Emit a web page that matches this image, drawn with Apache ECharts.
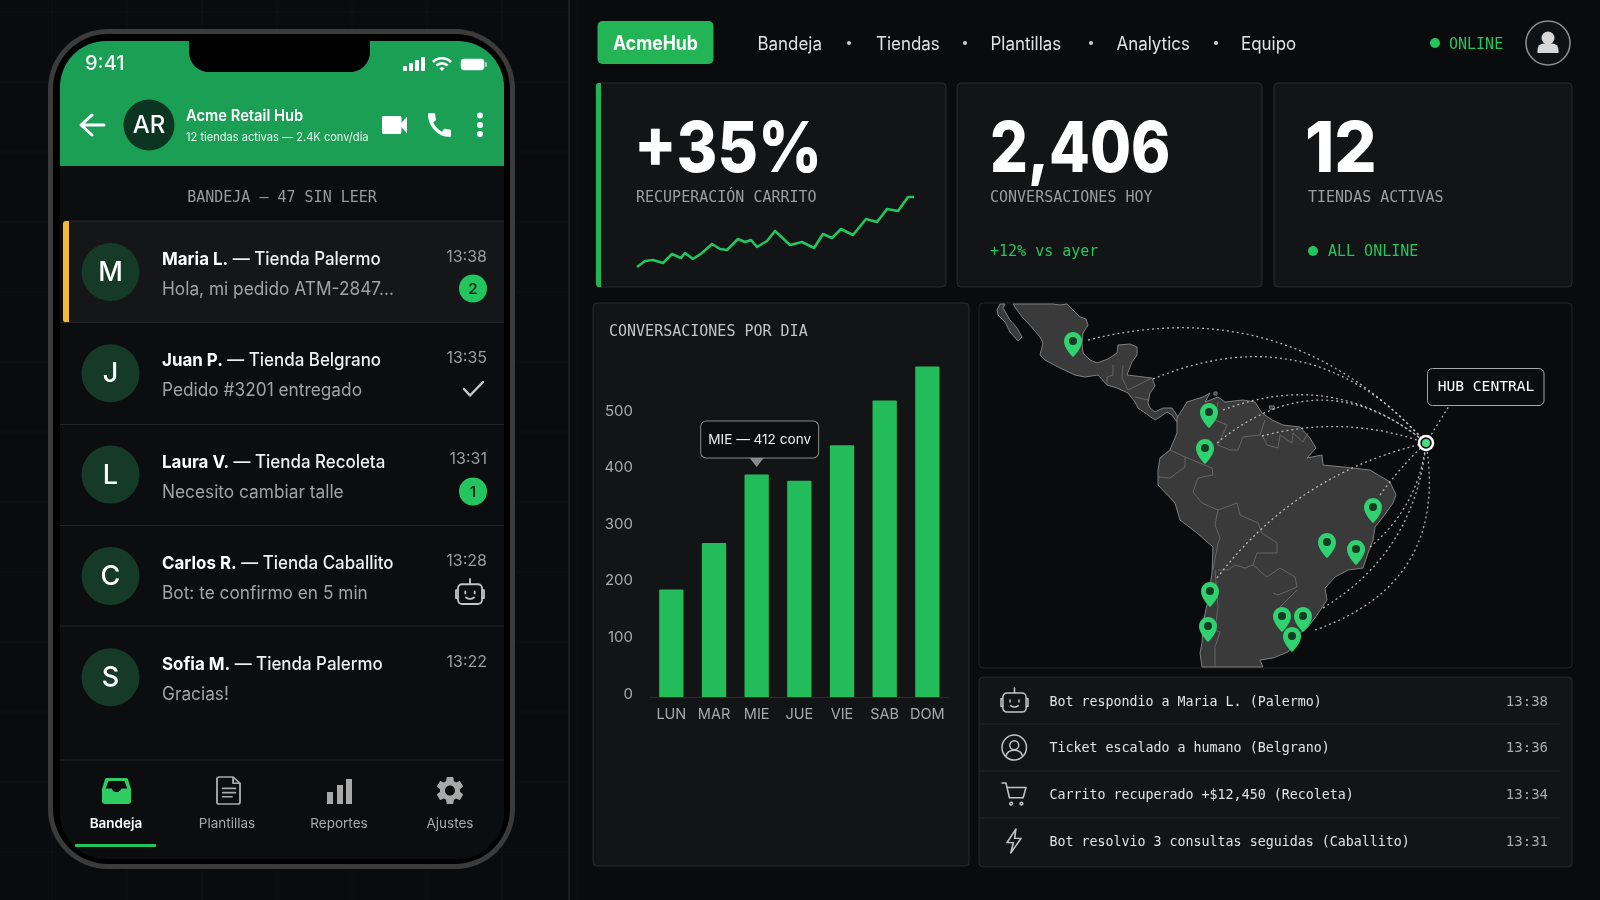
<!DOCTYPE html>
<html>
<head>
<meta charset="utf-8">
<title>AcmeHub</title>
<style>
  html, body { margin: 0; padding: 0; background: #0a0b0c; }
  #main { width: 1600px; height: 900px; }
</style>
<script src="https://cdn.jsdelivr.net/npm/echarts@6/dist/echarts.min.js"></script>
</head>
<body>
<div id="main"></div>
<script>
/* ============================================================
   AcmeHub dashboard: phone inbox + KPI cards + bars + hub map
   ============================================================ */

// ---- bar chart ----
var days = ["LUN", "MAR", "MIE", "JUE", "VIE", "SAB", "DOM"];
var dayCounts = [190, 272, 393, 382, 445, 524, 584];
var highlightDay = "MIE";
var highlightText = "MIE — 412 conv";

// ---- sparkline (recuperacion carrito) ----
var sparkX = [7, 15, 23, 33, 42, 51, 55, 63, 72, 82, 90, 97, 108, 115, 121, 127, 137, 145, 160, 172, 184, 193, 202, 211, 223, 236, 247, 257, 268, 278, 284];
var sparkY = [8, 14, 15, 12, 21, 17, 22, 16, 22, 31, 26, 25, 36, 33, 35, 28, 34, 44, 30, 33, 27, 41, 37, 46, 40, 56, 53, 66, 64, 78, 78];

// ---- inbox ----
var contactNames = ["Maria L.", "Juan P.", "Laura V.", "Carlos R.", "Sofia M."];
var contactStores = ["Tienda Palermo", "Tienda Belgrano", "Tienda Recoleta", "Tienda Caballito", "Tienda Palermo"];
var contactPreviews = ["Hola, mi pedido ATM-2847...", "Pedido #3201 entregado", "Necesito cambiar talle", "Bot: te confirmo en 5 min", "Gracias!"];
var contactTimes = ["13:38", "13:35", "13:31", "13:28", "13:22"];
var contactLetters = ["M", "J", "L", "C", "S"];

// ---- top nav / tabs ----
var navItems = ["Bandeja", "Tiendas", "Plantillas", "Analytics", "Equipo"];
var tabItems = ["Bandeja", "Plantillas", "Reportes", "Ajustes"];

// ---- activity log ----
var logTexts = ["Bot respondio a Maria L. (Palermo)", "Ticket escalado a humano (Belgrano)", "Carrito recuperado +$12,450 (Recoleta)", "Bot resolvio 3 consultas seguidas (Caballito)"];
var logTimes = ["13:38", "13:36", "13:34", "13:31"];

// ---- map (map units) ----
var landMexico = [[1013, 304], [1053, 304], [1060, 305], [1067, 304], [1073, 310], [1080, 317], [1086, 319], [1088, 325], [1083, 333], [1082, 343], [1083, 353], [1090, 360], [1097, 363], [1108, 359], [1117, 353], [1118, 345], [1130, 344], [1137, 347], [1137, 355], [1132, 362], [1130, 367], [1127, 375], [1152, 378], [1155, 386], [1150, 393], [1148, 403], [1150, 408], [1155, 412], [1163, 408], [1172, 408], [1178, 417], [1177, 422], [1172, 415], [1167, 412], [1160, 417], [1155, 420], [1148, 415], [1138, 408], [1135, 402], [1128, 393], [1117, 388], [1107, 385], [1098, 375], [1085, 377], [1075, 375], [1060, 368], [1045, 360], [1040, 355], [1043, 343], [1040, 337], [1028, 323], [1023, 318], [1017, 310]];
var landBaja = [[1000, 304], [1005, 304], [1003, 308], [1010, 320], [1017, 328], [1022, 337], [1018, 341], [1010, 332], [1005, 322], [998, 315], [997, 310]];
var landSouth = [[1177, 418], [1187, 402], [1203, 397], [1210, 393], [1205, 402], [1218, 397], [1225, 402], [1243, 400], [1255, 402], [1262, 413], [1272, 420], [1283, 425], [1300, 427], [1310, 438], [1316, 448], [1307, 458], [1322, 455], [1323, 465], [1343, 467], [1370, 470], [1390, 482], [1396, 495], [1393, 503], [1383, 517], [1375, 527], [1373, 540], [1368, 553], [1363, 568], [1348, 570], [1335, 577], [1325, 588], [1327, 600], [1317, 615], [1308, 627], [1300, 633], [1288, 652], [1273, 658], [1260, 660], [1263, 667], [1202, 667], [1200, 653], [1202, 643], [1203, 623], [1208, 600], [1212, 573], [1213, 547], [1197, 533], [1180, 520], [1175, 503], [1158, 485], [1158, 470], [1160, 458], [1170, 450], [1177, 433]];
var landIsleA = [[1269, 406], [1274, 406], [1275, 409], [1270, 409]];
var landIsleB = [[1214, 392], [1217, 392], [1217, 395], [1214, 395]];
var borderLines = [
  [[1113, 365], [1113, 375], [1107, 377], [1107, 385]],
  [[1123, 365], [1122, 378], [1128, 390], [1152, 378]],
  [[1135, 397], [1148, 400]],
  [[1218, 402], [1215, 420], [1227, 425], [1218, 445], [1230, 450], [1238, 450], [1243, 437], [1260, 435], [1265, 420]],
  [[1262, 435], [1267, 445], [1278, 448], [1280, 435], [1292, 443], [1293, 433], [1303, 442], [1308, 433]],
  [[1160, 458], [1170, 450], [1185, 457], [1185, 467], [1170, 478], [1158, 477]],
  [[1185, 457], [1212, 468], [1213, 475], [1198, 478], [1193, 492], [1202, 503], [1218, 510], [1215, 525], [1220, 538], [1218, 543], [1213, 570]],
  [[1218, 510], [1237, 503], [1240, 515], [1258, 523], [1262, 533], [1277, 543], [1277, 553], [1257, 553], [1253, 565], [1267, 577], [1280, 568], [1295, 577], [1297, 587], [1278, 595], [1273, 593]],
  [[1218, 570], [1228, 570], [1235, 565], [1245, 568], [1253, 565]],
  [[1215, 570], [1218, 607], [1215, 630], [1220, 632], [1215, 647], [1215, 667]],
  [[1297, 590], [1280, 607], [1278, 625]]
];
var storePins = [[1073, 357], [1209, 428], [1205, 464], [1373, 523], [1327, 558], [1356, 565], [1210, 607], [1208, 642], [1282, 632], [1303, 632], [1292, 652]];
var hubPoint = [1426, 443];
var hubLabelFoot = [1449, 406];
// route start + bend of each arc into the hub
var routeStarts = [[1088, 340], [1153, 379], [1223, 410], [1217, 443], [1262, 436], [1217, 578], [1380, 495], [1370, 547], [1323, 608], [1315, 630]];
var routeBends = [0.30, 0.36, 0.29, 0.41, 0.155, 0.18, 0.05, -0.2, -0.25, -0.42];

var SANS = "Inter, 'Noto Sans', sans-serif";
var MONO = "'DejaVu Sans Mono', 'Liberation Mono', monospace";
var GREEN = "#22c55e";

var PIN_PATH = "path://M12 0C5.4 0 0 5.4 0 12c0 9 12 20 12 20s12-11 12-20C24 5.4 18.6 0 12 0z";
var ICON_WIFI = "M1 9l2 2c4.97-4.97 13.03-4.97 18 0l2-2C16.93 2.93 7.08 2.93 1 9zm8 8l3 3 3-3c-1.65-1.66-4.34-1.66-6 0zm-4-4l2 2c2.76-2.76 7.24-2.76 10 0l2-2C15.14 9.14 8.87 9.14 5 13z";
var ICON_VIDEO = "M17 10.5V7c0-.55-.45-1-1-1H4c-.55 0-1 .45-1 1v10c0 .55.45 1 1 1h12c.55 0 1-.45 1-1v-3.5l4 4v-11l-4 4z";
var ICON_CALL = "M20.01 15.38c-1.23 0-2.42-.2-3.53-.56-.35-.12-.74-.03-1.01.24l-1.57 1.97c-2.83-1.35-5.48-3.9-6.89-6.83l1.95-1.66c.27-.28.35-.67.24-1.02-.37-1.11-.56-2.3-.56-3.53 0-.54-.45-.99-.99-.99H4.19C3.65 3 3 3.24 3 3.99 3 13.28 10.73 21 20.01 21c.71 0 .99-.63.99-1.18v-3.45c0-.54-.45-.99-.99-.99z";
var ICON_GEAR = "M19.14 12.94c.04-.3.06-.61.06-.94 0-.32-.02-.64-.07-.94l2.03-1.58c.18-.14.23-.41.12-.61l-1.92-3.32c-.12-.22-.37-.29-.59-.22l-2.39.96c-.5-.38-1.03-.7-1.62-.94l-.36-2.54c-.04-.24-.24-.41-.48-.41h-3.84c-.24 0-.43.17-.47.41l-.36 2.54c-.59.24-1.13.57-1.62.94l-2.39-.96c-.22-.08-.47 0-.59.22L2.74 8.87c-.12.21-.08.47.12.61l2.03 1.58c-.05.3-.09.63-.09.94s.02.64.07.94l-2.03 1.58c-.18.14-.23.41-.12.61l1.92 3.32c.12.22.37.29.59.22l2.39-.96c.5.38 1.03.7 1.62.94l.36 2.54c.05.24.24.41.48.41h3.84c.24 0 .44-.17.47-.41l.36-2.54c.59-.24 1.13-.56 1.62-.94l2.39.96c.22.08.47 0 .59-.22l1.92-3.32c.12-.22.07-.47-.12-.61l-2.01-1.58zM12 15.6c-1.98 0-3.6-1.62-3.6-3.6s1.62-3.6 3.6-3.6 3.6 1.62 3.6 3.6-1.62 3.6-3.6 3.6z";
var ICON_ROBOT = "M12 1.5v4M6 5.5h12a3 3 0 0 1 3 3v9a3 3 0 0 1-3 3H6a3 3 0 0 1-3-3v-9a3 3 0 0 1 3-3zM3 10H1.5v6H3M21 10h1.5v6H21M8.5 11v1.5M15.5 11v1.5M9 15.5q3 2.2 6 0";
var ICON_USER = "M12 1a11 11 0 1 0 .01 0zM12 6a4 4 0 1 0 .01 0zM4.5 19.5c1-3.5 4-5 7.5-5s6.5 1.5 7.5 5";
var ICON_CART = "M1 2h3.5l3 13h12l2.5-9H5.5M9 19a1.2 1.2 0 1 0 .01 0zM18 19a1.2 1.2 0 1 0 .01 0z";
var ICON_BOLT = "M9 1L2 14h5l-2 10 8-14H8z";
var ICON_DOC = "M3 1h12l6 6v18a2 2 0 0 1-2 2H3a2 2 0 0 1-2-2V3a2 2 0 0 1 2-2zM15 1v6h6M6 12h11M6 16h11M6 20h8";

var gfx = [];
var pathCount = 0;

// ============================================================
//  small graphic helpers
// ============================================================
function box(x, y, w, h, fill, stroke, r, z) {
  gfx.push({
    type: "rect", z: z === undefined ? 0 : z, silent: true,
    shape: { x: x, y: y, width: w, height: h, r: r || 0 },
    style: { fill: fill, stroke: stroke || null, lineWidth: stroke ? 1 : 0 }
  });
}
function dot(cx, cy, r, fill, stroke, lw) {
  gfx.push({
    type: "circle", z: 5, silent: true,
    shape: { cx: cx, cy: cy, r: r },
    style: { fill: fill, stroke: stroke || null, lineWidth: lw || 0 }
  });
}
// sx: the reference's type runs a little narrower than Inter, so squeeze it
function txt(x, y, s, size, color, family, weight, align, sx) {
  gfx.push({
    type: "text", z: 10, silent: true, x: x, y: y, scaleX: sx || 1,
    style: {
      text: s, fill: color, fontSize: size, fontFamily: family || SANS,
      fontWeight: weight || 400, textAlign: align || "left", textVerticalAlign: "middle"
    }
  });
}
// graphic has no plain svg-path type, so each icon gets its own registered shape
function regPath(path) {
  var name = "acmePath" + (pathCount++);
  var Cls = echarts.graphic.extendPath(path, {});
  echarts.graphic.registerShape(name, Cls);
  return { name: name, rect: new Cls().getBoundingRect() };
}
function icon(path, x, y, w, h, fill, stroke, lw) {
  var reg = regPath(path);
  var sx = w / reg.rect.width, sy = h / reg.rect.height;
  gfx.push({
    type: reg.name, z: 6, silent: true,
    x: x - reg.rect.x * sx, y: y - reg.rect.y * sy, scaleX: sx, scaleY: sy,
    style: { fill: fill || null, stroke: stroke || null, lineWidth: lw || 0, lineCap: "round", lineJoin: "round", strokeNoScale: true }
  });
}
function rawPath(path, fill, stroke, lw) {
  gfx.push({
    type: regPath(path).name, z: 6, silent: true,
    style: { fill: fill || null, stroke: stroke || null, lineWidth: lw || 0, lineCap: "round", lineJoin: "round" }
  });
}
function seg(x1, y1, x2, y2, color, z) {
  gfx.push({
    type: "line", z: z === undefined ? 1 : z, silent: true,
    shape: { x1: x1, y1: y1, x2: x2, y2: y2 },
    style: { stroke: color, lineWidth: 1 }
  });
}

// ============================================================
//  phone
// ============================================================
function drawPhone() {
  var i;
  for (i = 0; i < 8; i++) seg(52 + i * 75, 0, 52 + i * 75, 900, "rgba(255,255,255,0.022)", 0);
  for (i = 0; i < 13; i++) seg(0, 12 + i * 70, 569, 12 + i * 70, "rgba(255,255,255,0.022)", 0);
  seg(569, 0, 569, 900, "#2b2c2e", 0);

  box(48, 29, 467, 840, "#3b3b3c", null, 60);
  box(53, 34, 457, 830, "#000000", null, 55);
  box(60, 41, 444, 818, "#0c0d0e", null, 46);
  box(60, 41, 444, 125, "#1a9f55", null, [46, 46, 0, 0]);
  box(189, 41, 181, 31, "#000000", null, [0, 0, 20, 20]);

  txt(85, 64, "9:41", 20, "#f2f2f2", SANS, 500);
  box(403, 66, 4, 5, "#fff", null, 1);
  box(409, 63, 4, 8, "#fff", null, 1);
  box(415, 60, 4, 11, "#fff", null, 1);
  box(421, 57, 4, 14, "#fff", null, 1);
  icon(ICON_WIFI, 432, 57, 20, 14, "#fff");
  box(461, 59, 23, 11, "#fff", "rgba(255,255,255,0.5)", 3);
  box(485, 62, 2, 5, "rgba(255,255,255,0.6)", null, 1);

  rawPath("M104 125H82M92 115L81 125L92 135", null, "#fff", 3);
  dot(149, 125, 25.5, "#0c3521");
  txt(149, 126, "AR", 24, "#fff", SANS, 500, "center");
  txt(186, 116, "Acme Retail Hub", 16, "#fff", SANS, 600, "left", 0.92);
  txt(186, 137, "12 tiendas activas — 2.4K conv/dia", 12.2, "#e9f6ee", SANS, 400, "left", 0.91);
  icon(ICON_VIDEO, 382, 116, 25, 18, "#fff");
  icon(ICON_CALL, 428, 113, 23, 24, "#fff");
  dot(480, 115.5, 3, "#fff");
  dot(480, 125, 3, "#fff");
  dot(480, 134, 3, "#fff");

  txt(282, 198.5, "BANDEJA — 47 SIN LEER", 15, "#9a9a9a", MONO, 400, "center");

  // conversation rows
  var sepY = [322.5, 424.5, 525.5, 626];
  box(64, 221, 440, 101.5, "#151617");
  seg(64, 221, 504, 221, "#242527");
  box(63, 221, 6, 101.5, "#f4b93a", null, [3, 0, 0, 3], 1);
  sepY.forEach(function (y) { seg(60, y, 504, y, "#232426"); });

  for (i = 0; i < contactNames.length; i++) {
    var top = i * 101.3;
    dot(110.5, 272 + top, 29, "#153a27");
    txt(110.5, 273 + top, contactLetters[i], 27, "#fff", SANS, 500, "center");
    gfx.push({
      type: "text", z: 10, silent: true, x: 162, y: 259.5 + top, scaleX: 0.94,
      style: {
        text: "{b|" + contactNames[i] + "}{r| — " + contactStores[i] + "}",
        textVerticalAlign: "middle", textAlign: "left",
        rich: {
          b: { fontSize: 18, fontFamily: SANS, fontWeight: 700, fill: "#fff" },
          r: { fontSize: 18, fontFamily: SANS, fontWeight: 500, fill: "#f0f0f0" }
        }
      }
    });
    txt(162, 289.5 + top, contactPreviews[i], 18, "#a3a3a3", SANS, 400, "left", 0.96);
    txt(487, 257 + top, contactTimes[i], 16, "#9c9c9c", SANS, 400, "right");
  }
  dot(473, 288.5, 14, GREEN);
  txt(473, 289, "2", 15, "#0d2b18", SANS, 600, "center");
  rawPath("M464 389L470 395.5L483 382", null, "#c9c9c9", 2.4);
  dot(473, 491.5, 14, GREEN);
  txt(473, 492, "1", 15, "#0d2b18", SANS, 600, "center");
  icon(ICON_ROBOT, 456, 579, 28, 25, null, "#c4c4c4", 1.8);

  // bottom tabs
  seg(60, 760, 504, 760, "#232426");
  var tabX = [116, 227, 339, 450];
  tabItems.forEach(function (name, idx) {
    txt(tabX[idx], 824, name, 13.5, idx === 0 ? "#fff" : "#a9a9a9", SANS, idx === 0 ? 600 : 400, "center");
  });
  rawPath("M107 778h19a2 2 0 0 1 2 1.2l3 9.8v12a3 3 0 0 1-3 3h-23a3 3 0 0 1-3-3v-12l3-9.8a2 2 0 0 1 2-1.2z", "#2ecc63");
  rawPath("M108.5 781h16l2.8 7.5h-6a5 5 0 0 1-9.6 0h-6z", "#0c0d0e");
  icon(ICON_DOC, 217, 777, 23, 27, null, "#a9a9a9", 1.8);
  box(327, 792, 6, 12, "#a9a9a9");
  box(337, 785, 6, 19, "#a9a9a9");
  box(346, 779, 6, 25, "#a9a9a9");
  icon(ICON_GEAR, 437, 777, 26, 27, "#a9a9a9");
  box(75, 844, 81, 3, GREEN, null, 1);
}

// ============================================================
//  dashboard chrome (nav, cards, panels, log)
// ============================================================
function drawDashboard() {
  box(597.5, 21, 116, 43, "#22b455", null, 5);
  txt(655.5, 44, "AcmeHub", 20, "#fff", SANS, 700, "center", 0.88);

  var navX = [757.5, 876, 990.5, 1116.5, 1241];
  navItems.forEach(function (n, i) { txt(navX[i], 45, n, 18, "#e2e2e2", SANS, 400, "left", 0.94); });
  [849, 965, 1091, 1216].forEach(function (x) { dot(x, 43, 2, "#cfcfcf"); });

  dot(1435, 43, 5, GREEN);
  txt(1449, 45, "ONLINE", 15, GREEN, MONO);
  dot(1548, 43, 22, "#101112", "#8a8a8a", 1.6);
  dot(1548, 38, 6.5, "#d8d8d8");
  rawPath("M1537.5 53v-3.5a6 6 0 0 1 6-6h9a6 6 0 0 1 6 6V53z", "#d8d8d8");

  // KPI cards
  var panel = "#131415", edge = "#2a2b2d";
  box(596, 83, 350, 204, panel, edge, 4);
  box(596, 83, 5, 204, "#22b455", null, [3, 0, 0, 3], 1);
  box(957, 83, 305, 204, panel, edge, 4);
  box(1274, 83, 298, 204, panel, edge, 4);

  txt(634, 150.5, "+35%", 70, "#fff", SANS, 800, "left", 0.89);
  txt(636, 198.5, "RECUPERACIÓN CARRITO", 15, "#9d9d9d", MONO);
  txt(990, 150.5, "2,406", 70, "#fff", SANS, 800, "left", 0.85);
  txt(990, 198.5, "CONVERSACIONES HOY", 15, "#9d9d9d", MONO);
  txt(990, 252.5, "+12% vs ayer", 15, GREEN, MONO);
  txt(1305, 150.5, "12", 70, "#fff", SANS, 800, "left", 0.95);
  txt(1308, 198.5, "TIENDAS ACTIVAS", 15, "#9d9d9d", MONO);
  dot(1313, 251, 5, GREEN);
  txt(1328, 252.5, "ALL ONLINE", 15, GREEN, MONO);

  // chart + map panels
  box(593, 303, 376, 563, panel, edge, 4);
  txt(609, 332.5, "CONVERSACIONES POR DIA", 15, "#c4c4c4", MONO);
  box(979, 303, 593, 365, "#0a0b0c", "#222325", 4);

  box(1427.5, 368.5, 116.5, 37, "#0c0d0e", "#a5a5a5", 5);
  txt(1486, 387, "HUB CENTRAL", 14.6, "#fff", MONO, 400, "center");

  // activity log
  box(979, 677, 593, 190, panel, edge, 4);
  [724, 771, 818].forEach(function (y) { seg(979, y, 1560, y, "#26272a"); });
  var rowY = [702, 748, 795, 842];
  logTexts.forEach(function (t, i) {
    txt(1049.5, rowY[i] + 1, t, 13.3, "#e2e2e2", MONO);
    txt(1548, rowY[i], logTimes[i], 14, "#ababab", MONO, 400, "right");
  });
  icon(ICON_ROBOT, 1001, 688, 27, 24, null, "#c4c4c4", 1.5);
  icon(ICON_USER, 1002, 735, 24.5, 25, null, "#c4c4c4", 1.5);
  icon(ICON_CART, 1002, 783, 24, 22, null, "#c4c4c4", 1.5);
  icon(ICON_BOLT, 1007, 829, 14, 24, null, "#c4c4c4", 1.5);
}

drawPhone();
drawDashboard();

// ============================================================
//  map registration
// ============================================================
function landFeature(name, ring) {
  return { type: "Feature", properties: { name: name }, geometry: { type: "Polygon", coordinates: [ring.concat([ring[0]])] } };
}
echarts.registerMap("latam", {
  type: "FeatureCollection",
  features: [
    landFeature("mexico", landMexico), landFeature("baja", landBaja), landFeature("south", landSouth),
    landFeature("isleA", landIsleA), landFeature("isleB", landIsleB)
  ]
});

var routes = routeStarts.map(function (p, i) {
  return { coords: [p, hubPoint], lineStyle: { curveness: routeBends[i] } };
});
routes.push({ coords: [hubPoint, hubLabelFoot], lineStyle: { curveness: 0 } });

var barData = dayCounts.map(function (v, i) {
  if (days[i] !== highlightDay) return v;
  return {
    value: v,
    label: {
      show: true, position: "top", distance: 17, offset: [3, 0],
      formatter: highlightText, color: "#eeeeee", fontFamily: SANS, fontSize: 13.6,
      backgroundColor: "#0c0d0e", borderColor: "#8a8a8a", borderWidth: 1, borderRadius: 5,
      padding: [11, 7, 11, 7]
    }
  };
});

var chart = echarts.init(document.getElementById("main"), null, { renderer: "canvas" });
chart.setOption({
  animation: false,
  backgroundColor: "#0a0b0c",
  graphic: { elements: gfx },
  grid: [
    { left: 650, top: 357.4, width: 298.7, height: 339.6, z: 3 },
    { left: 630, top: 190, width: 290, height: 85, z: 3 }
  ],
  xAxis: [
    {
      type: "category", gridIndex: 0, data: days,
      axisLine: { lineStyle: { color: "#2b2c2e" } }, axisTick: { show: false },
      axisLabel: { color: "#aaaaaa", fontFamily: SANS, fontSize: 14.5, margin: 10, interval: 0 }
    },
    { type: "value", gridIndex: 1, min: 0, max: 290, show: false }
  ],
  yAxis: [
    {
      type: "value", gridIndex: 0, min: 0, max: 600, interval: 100,
      axisLine: { show: false }, axisTick: { show: false }, splitLine: { show: false },
      // tick labels sit a few px above their tick in the reference
      axisLabel: { color: "#aaaaaa", fontFamily: SANS, fontSize: 15, margin: 17, showMaxLabel: false, verticalAlign: "bottom", lineHeight: 6 }
    },
    { type: "value", gridIndex: 1, min: 0, max: 85, show: false }
  ],
  geo: {
    map: "latam", silent: true, roam: false, z: 1,
    projection: {
      project: function (p) { return p; },
      unproject: function (p) { return p; }
    },
    aspectScale: 1,
    boundingCoords: [[979, 303], [1572, 668]],
    left: 979, top: 303, width: 593, height: 365,
    label: { show: false },
    itemStyle: { areaColor: "#3a3a3b", borderColor: "#7f7f7f", borderWidth: 1 }
  },
  series: [
    {
      type: "bar", xAxisIndex: 0, yAxisIndex: 0, data: barData, barWidth: 24.3, z: 3,
      itemStyle: { color: "#22bd5a", borderRadius: [1, 1, 0, 0] },
      markPoint: {
        silent: true, symbol: "triangle", symbolRotate: 180, symbolSize: [14, 9], symbolOffset: [0, -12],
        itemStyle: { color: "#8a8a8a" }, label: { show: false },
        data: [{ coord: [highlightDay, dayCounts[days.indexOf(highlightDay)]] }]
      }
    },
    {
      type: "line", xAxisIndex: 1, yAxisIndex: 1, showSymbol: false, silent: true, z: 4,
      data: sparkX.map(function (x, i) { return [x, sparkY[i]]; }),
      lineStyle: { color: GREEN, width: 2.6, join: "round" }
    },
    {
      type: "lines", coordinateSystem: "geo", polyline: true, silent: true, z: 2,
      data: borderLines.map(function (l) { return { coords: l }; }),
      lineStyle: { color: "#6f6f6f", width: 0.8, opacity: 1 }
    },
    {
      type: "lines", coordinateSystem: "geo", silent: true, z: 3,
      data: routes,
      lineStyle: { color: "#cfcfcf", width: 1.3, opacity: 0.85, type: [2, 3] }
    },
    {
      type: "scatter", coordinateSystem: "geo", silent: true, z: 4,
      data: storePins, symbol: PIN_PATH, symbolSize: [18, 25], symbolOffset: [0, "-50%"],
      itemStyle: { color: "#30d16f", opacity: 1 }
    },
    {
      type: "scatter", coordinateSystem: "geo", silent: true, z: 5,
      data: storePins, symbol: "circle", symbolSize: 8, symbolOffset: [0, -16],
      itemStyle: { color: "#123a24", opacity: 1 }
    },
    {
      type: "scatter", coordinateSystem: "geo", silent: true, z: 5,
      data: [hubPoint], symbol: "circle", symbolSize: 14,
      itemStyle: { color: "#0a0b0c", borderColor: "#ffffff", borderWidth: 2.5, opacity: 1 }
    },
    {
      type: "scatter", coordinateSystem: "geo", silent: true, z: 6,
      data: [hubPoint], symbol: "circle", symbolSize: 8,
      itemStyle: { color: "#46dd85", opacity: 1 }
    }
  ]
});
</script>
</body>
</html>
